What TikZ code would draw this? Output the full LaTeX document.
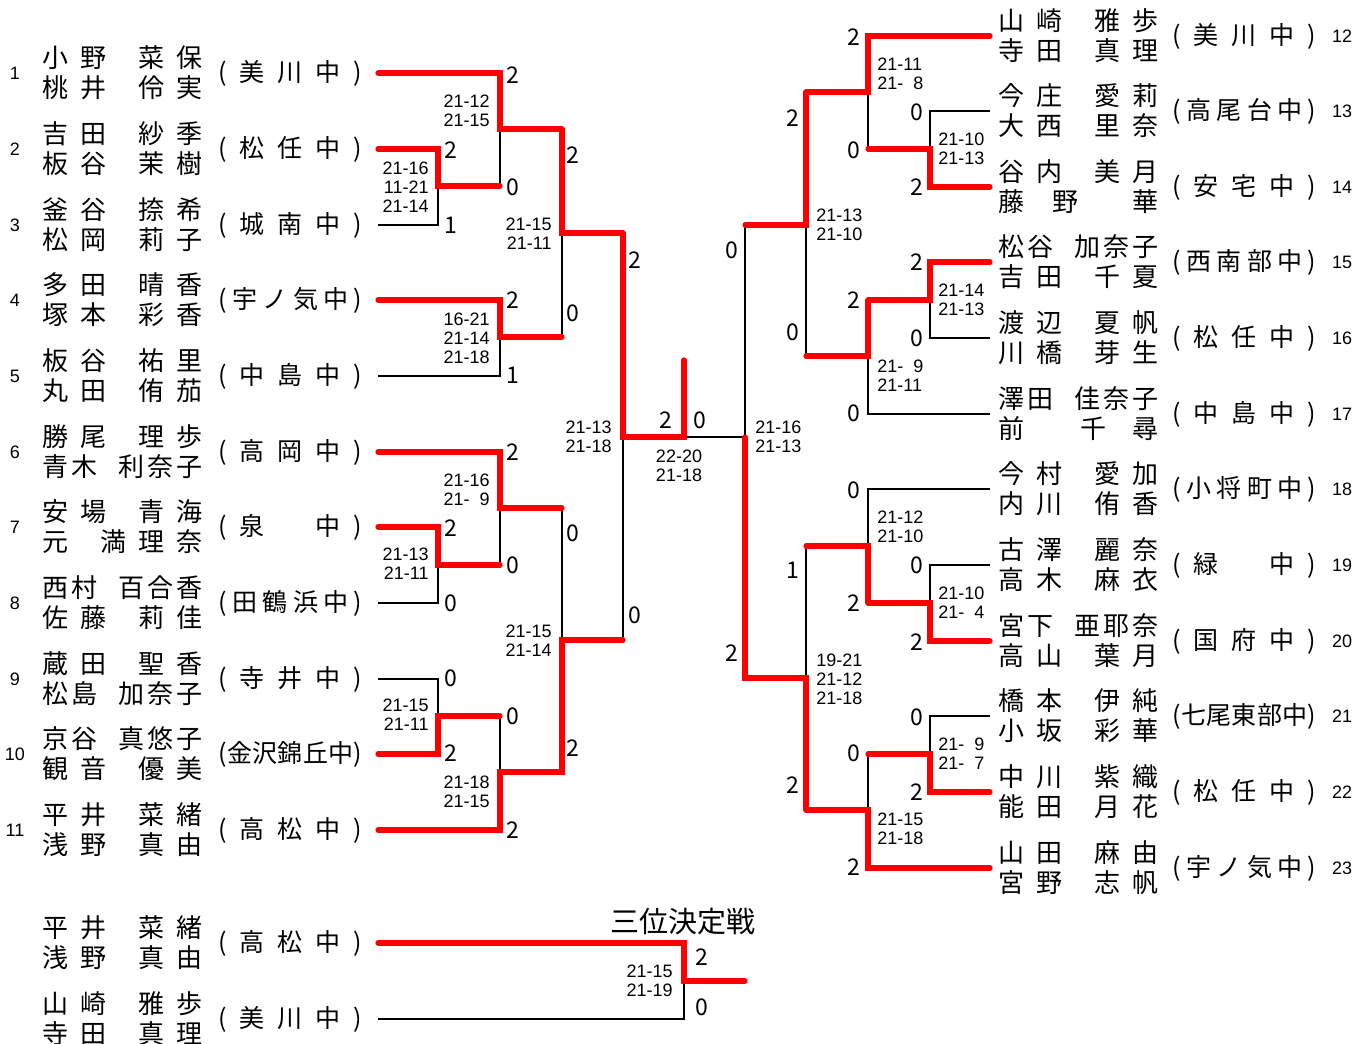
\documentclass[tikz,border=0pt]{standalone}
\usepackage{fontspec}
\setmainfont{Noto Sans CJK JP}
\newfontfamily\arialfont{Liberation Sans}
\usepackage{tikz}

\newcommand\namefont{\fontsize{13}{15}\selectfont}
\newcommand\schfont{\fontsize{12.5}{15}\selectfont}
\newcommand\setfont{\arialfont\fontsize{9}{9.5}\selectfont}
\newcommand\seedfont{\arialfont\fontsize{9}{10}\selectfont}
\newcommand\winfont{\fontsize{11.5}{12}\selectfont}

% name layouts: 2+2 characters, 2+3 characters
\newcommand\nA[4]{#1\hspace{6pt}#2\hspace{16pt}#3\hspace{6pt}#4}
\newcommand\nB[5]{#1\hspace{1.5pt}#2\hspace{10.5pt}#3\hspace{1.5pt}#4\hspace{1.5pt}#5}
% schools in brackets
\newcommand\scC[3]{\makebox[72pt]{(\hfill#1\hfill#2\hfill#3\hfill)}}
\newcommand\scD[4]{\makebox[72pt]{(\hfill#1\hfill#2\hfill#3\hfill#4\hfill)}}
\newcommand\scE[5]{\makebox[72pt]{(\hfill#1\hfill#2\hfill#3\hfill#4\hfill#5\hfill)}}

\tikzset{%
	win/.style={draw=red, line width=2.6pt, line cap=round, line join=miter},
	lose/.style={draw=black, line width=0.6pt},
	seed/.style={inner sep=0pt, font=\seedfont},
	pname/.style={anchor=west, inner sep=0pt, font=\namefont},
	school/.style={anchor=west, inner sep=0pt, font=\schfont},
	sets/.style={inner sep=0pt, font=\setfont, align=right, anchor=east},
	setsr/.style={inner sep=0pt, font=\setfont, align=left, anchor=west},
	wins/.style={inner sep=0pt, font=\winfont},
	heading/.style={inner sep=0pt, font=\fontsize{14.5}{16}\selectfont}
}

\begin{document}
\begin{tikzpicture}[x=0.5pt, y=-0.5pt]
	\useasboundingbox (0,0) rectangle (1368,1043);

	% left block
	\foreach \k/\y/\a/\b/\s in {
		1/73/{\nA{小}{野}{菜}{保}}/{\nA{桃}{井}{伶}{実}}/{\scC{美}{川}{中}},
		2/149/{\nA{吉}{田}{紗}{季}}/{\nA{板}{谷}{茉}{樹}}/{\scC{松}{任}{中}},
		3/225/{\nA{釜}{谷}{捺}{希}}/{\nA{松}{岡}{莉}{子}}/{\scC{城}{南}{中}},
		4/300/{\nA{多}{田}{晴}{香}}/{\nA{塚}{本}{彩}{香}}/{\scD{宇}{ノ}{気}{中}},
		5/376/{\nA{板}{谷}{祐}{里}}/{\nA{丸}{田}{侑}{茄}}/{\scC{中}{島}{中}},
		6/452/{\nA{勝}{尾}{理}{歩}}/{\nB{青}{木}{利}{奈}{子}}/{\scC{高}{岡}{中}},
		7/527/{\nA{安}{場}{青}{海}}/{元\hspace{16pt}満\hspace{6pt}理\hspace{6pt}奈}/{\scC{泉}{\hphantom{中}}{中}},
		8/603/{\nB{西}{村}{百}{合}{香}}/{\nA{佐}{藤}{莉}{佳}}/{\scD{田}{鶴}{浜}{中}},
		9/679/{\nA{蔵}{田}{聖}{香}}/{\nB{松}{島}{加}{奈}{子}}/{\scC{寺}{井}{中}},
		10/754/{\nB{京}{谷}{真}{悠}{子}}/{\nA{観}{音}{優}{美}}/{\scE{金}{沢}{錦}{丘}{中}},
		11/830/{\nA{平}{井}{菜}{緒}}/{\nA{浅}{野}{真}{由}}/{\scC{高}{松}{中}}} {
		\node[seed] (no\k) at (15,\y) {\k};
		\node[pname] (na\k) at (42,\y-15) {\a};
		\node[pname] (nb\k) at (42,\y+15) {\b};
		\node[school] (sc\k) at (218,\y) {\s};
		\coordinate (e\k) at (378,\y);
	}

	% right block
	\foreach \k/\y/\a/\b/\s in {
		12/36/{\nA{山}{崎}{雅}{歩}}/{\nA{寺}{田}{真}{理}}/{\scC{美}{川}{中}},
		13/111/{\nA{今}{庄}{愛}{莉}}/{\nA{大}{西}{里}{奈}}/{\scD{高}{尾}{台}{中}},
		14/187/{\nA{谷}{内}{美}{月}}/{藤\hspace{14pt}野\hspace{27pt}華}/{\scC{安}{宅}{中}},
		15/262/{\nB{松}{谷}{加}{奈}{子}}/{\nA{吉}{田}{千}{夏}}/{\scD{西}{南}{部}{中}},
		16/338/{\nA{渡}{辺}{夏}{帆}}/{\nA{川}{橋}{芽}{生}}/{\scC{松}{任}{中}},
		17/414/{\nB{澤}{田}{佳}{奈}{子}}/{前\hspace{28pt}千\hspace{13pt}尋}/{\scC{中}{島}{中}},
		18/489/{\nA{今}{村}{愛}{加}}/{\nA{内}{川}{侑}{香}}/{\scD{小}{将}{町}{中}},
		19/565/{\nA{古}{澤}{麗}{奈}}/{\nA{高}{木}{麻}{衣}}/{\scC{緑}{\hphantom{中}}{中}},
		20/641/{\nB{宮}{下}{亜}{耶}{奈}}/{\nA{高}{山}{葉}{月}}/{\scC{国}{府}{中}},
		21/716/{\nA{橋}{本}{伊}{純}}/{\nA{小}{坂}{彩}{華}}/{\scE{七}{尾}{東}{部}{中}},
		22/792/{\nA{中}{川}{紫}{織}}/{\nA{能}{田}{月}{花}}/{\scC{松}{任}{中}},
		23/868/{\nA{山}{田}{麻}{由}}/{\nA{宮}{野}{志}{帆}}/{\scD{宇}{ノ}{気}{中}}} {
		\node[seed] (no\k) at (1342,\y) {\k};
		\node[pname] (na\k) at (998,\y-15) {\a};
		\node[pname] (nb\k) at (998,\y+15) {\b};
		\node[school] (sc\k) at (1172,\y) {\s};
		\coordinate (r\k) at (990,\y);
	}

	% third place
	\node[heading] (third) at (683,922) {三位決定戦};
	\node[pname] (ta1) at (42,928) {\nA{平}{井}{菜}{緒}};
	\node[pname] (tb1) at (42,958) {\nA{浅}{野}{真}{由}};
	\node[school] (ts1) at (218,943) {\scC{高}{松}{中}};
	\node[pname] (ta2) at (42,1004) {\nA{山}{崎}{雅}{歩}};
	\node[pname] (tb2) at (42,1034) {\nA{寺}{田}{真}{理}};
	\node[school] (ts2) at (218,1019) {\scC{美}{川}{中}};
	\coordinate (t1) at (378,943);
	\coordinate (t2) at (378,1019);

	% junctions
	\coordinate (mA) at (438,186);
	\coordinate (mB) at (500,129);
	\coordinate (mC) at (500,337);
	\coordinate (mD) at (562,233);
	\coordinate (mE) at (438,565);
	\coordinate (mF) at (500,508);
	\coordinate (mG) at (438,716);
	\coordinate (mH) at (500,772);
	\coordinate (mI) at (562,640);
	\coordinate (mJ) at (623,437);
	\coordinate (fin) at (684,437);
	\coordinate (champ) at (684,360);
	\coordinate (mK) at (745,437);
	\coordinate (nA) at (930,149);
	\coordinate (nB) at (868,92);
	\coordinate (nC) at (930,300);
	\coordinate (nD) at (868,356);
	\coordinate (nE) at (806,225);
	\coordinate (nF) at (930,603);
	\coordinate (nG) at (868,546);
	\coordinate (nH) at (930,754);
	\coordinate (nI) at (868,810);
	\coordinate (nJ) at (806,678);
	\coordinate (tm) at (684,981);
	\coordinate (tw) at (745,981);

	% losing sides
	\draw[lose] (e3) -| (mA);
	\draw[lose] (mA -| mB) -- (mB);
	\draw[lose] (e5) -| (mC);
	\draw[lose] (mC -| mD) -- (mD);
	\draw[lose] (e8) -| (mE);
	\draw[lose] (mE -| mF) -- (mF);
	\draw[lose] (mF -| mI) -- (mI);
	\draw[lose] (e9) -| (mG);
	\draw[lose] (mG -| mH) -- (mH);
	\draw[lose] (mI -| mJ) -- (mJ);
	\draw[lose] (fin) -- (mK);
	\draw[lose] (nE -| mK) -- (mK);
	\draw[lose] (r13) -| (nA);
	\draw[lose] (nA -| nB) -- (nB);
	\draw[lose] (r16) -| (nC);
	\draw[lose] (r17) -| (nD);
	\draw[lose] (nD -| nE) -- (nE);
	\draw[lose] (r19) -| (nF);
	\draw[lose] (r18) -| (nG);
	\draw[lose] (r21) -| (nH);
	\draw[lose] (nH -| nI) -- (nI);
	\draw[lose] (nG -| nJ) -- (nJ);
	\draw[lose] (t2) -| (tm);

	% winning paths
	\draw[win] (e2) -| (mA) -- (mA -| mB);
	\draw[win] (e1) -| (mB) -- (mB -| mD);
	\draw[win] (e4) -| (mC) -- (mC -| mD);
	\draw[win] (mB -| mD) -- (mD) -- (mD -| mJ);
	\draw[win] (e7) -| (mE) -- (mE -| mF);
	\draw[win] (e6) -| (mF) -- (mF -| mI);
	\draw[win] (e10) -| (mG) -- (mG -| mH);
	\draw[win] (e11) -| (mH) -- (mH -| mI) -- (mI) -- (mI -| mJ);
	\draw[win] (mD -| mJ) -- (mJ) -- (fin) -- (champ);
	\draw[win] (r14) -| (nA) -- (nA -| nB);
	\draw[win] (r12) -| (nB) -- (nB -| nE);
	\draw[win] (r15) -| (nC) -- (nC -| nD);
	\draw[win] (nC -| nD) -- (nD) -- (nD -| nE);
	\draw[win] (nB -| nE) -- (nE) -- (nE -| mK);
	\draw[win] (r20) -| (nF) -- (nF -| nG);
	\draw[win] (nF -| nG) -- (nG) -- (nG -| nJ);
	\draw[win] (r22) -| (nH) -- (nH -| nI);
	\draw[win] (r23) -| (nI) -- (nI -| nJ);
	\draw[win] (nI -| nJ) -- (nJ) -- (nJ -| mK) -- (mK);
	\draw[win] (t1) -| (tm) -- (tw);

	% games won
	\foreach \x/\y/\w [count=\i] in {
		513/75/2, 451/150/2, 513/187/0, 451/225/1, 573/155/2, 513/300/2, 573/313/0,
		513/375/1, 635/260/2, 666/420/2, 700/420/0, 513/452/2, 451/528/2, 513/565/0,
		451/603/0, 573/533/0, 635/615/0, 451/678/0, 513/716/0, 451/753/2, 573/748/2,
		513/830/2, 854/37/2, 793/118/2, 917/112/0, 854/150/0, 917/187/2, 732/250/0,
		917/262/2, 854/300/2, 793/332/0, 917/338/0, 854/413/0, 854/490/0, 793/570/1,
		917/565/0, 854/603/2, 917/642/2, 732/653/2, 917/717/0, 854/753/0, 793/785/2,
		917/792/2, 854/867/2, 702/957/2, 702/1007/0}
		\node[wins] (w\i) at (\x,\y) {\w};

	% set scores, left of the junction
	\foreach \x/\y/\t [count=\i] in {
		490/111/{21-12\\21-15},
		429/187/{21-16\\11-21\\21-14},
		552/234/{21-15\\21-11},
		490/338/{16-21\\21-14\\21-18},
		612/437/{21-13\\21-18},
		490/490/{21-16\\21-\phantom{1}9},
		429/564/{21-13\\21-11},
		552/641/{21-15\\21-14},
		429/715/{21-15\\21-11},
		490/792/{21-18\\21-15},
		673/981/{21-15\\21-19}}
		\node[sets] (g\i) at (\x,\y) {\t};
	\node[sets, anchor=center] (final) at (679,466) {22-20\\21-18};

	% set scores, right of the junction
	\foreach \x/\y/\t [count=\i] in {
		877/74/{21-11\\21-\phantom{1}8},
		938/149/{21-10\\21-13},
		816/225/{21-13\\21-10},
		938/300/{21-14\\21-13},
		877/376/{21-\phantom{1}9\\21-11},
		755/437/{21-16\\21-13},
		877/527/{21-12\\21-10},
		938/603/{21-10\\21-\phantom{1}4},
		816/679/{19-21\\21-12\\21-18},
		938/754/{21-\phantom{1}9\\21-\phantom{1}7},
		877/829/{21-15\\21-18}}
		\node[setsr] (h\i) at (\x,\y) {\t};
\end{tikzpicture}
\end{document}
